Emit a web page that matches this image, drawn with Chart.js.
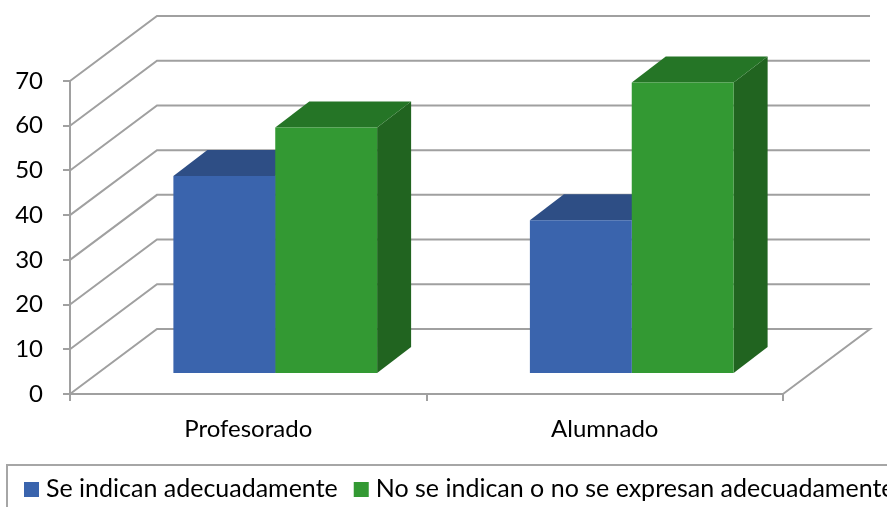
<!DOCTYPE html>
<html>
<head>
<meta charset="utf-8">
<script src="https://cdn.jsdelivr.net/npm/chart.js@4/dist/chart.umd.min.js"></script>
<style>
  html, body { margin: 0; padding: 0; background: #fff; overflow: hidden; }
  #wrap { width: 887px; height: 507px; overflow: hidden; }
</style>
</head>
<body>
<div id="wrap"><canvas id="chart" width="905" height="507"></canvas></div>
<script>
// Data
var categories = ['Profesorado', 'Alumnado'];
var seriesNames = ['Se indican adecuadamente', 'No se indican o no se expresan adecuadamente'];
var indicadas = [44.3, 34.4];
var noIndicadas = [55.1, 65.2];
var yTicks = [0, 10, 20, 30, 40, 50, 60, 70];

// 3D look (Excel style)
var FRONT = ['#3a64ad', '#339933'];
var TOP = ['#2e4e85', '#257526'];
var SIDE = ['#28467a', '#216420'];
var WALL_DX = 87, WALL_DY = 65;   // depth of the walls
var BAR_DX = 27, BAR_DY = 20;     // bars sit in the middle of the floor
var BOX_DX = 34, BOX_DY = 26;     // depth of each bar
var LINE = '#a0a0a0';
var FONT = 'Lato';

var wallsAndBoxes = {
    id: 'wallsAndBoxes',
    beforeDatasetsDraw: function (chart) {
        var ctx = chart.ctx;
        var y = chart.scales.y, a = chart.chartArea;
        ctx.save();
        ctx.strokeStyle = LINE;
        ctx.lineWidth = 2;
        yTicks.forEach(function (v) {
            var yf = y.getPixelForValue(v);
            ctx.beginPath();
            ctx.moveTo(a.left, yf);
            ctx.lineTo(a.left + WALL_DX, yf - WALL_DY);
            ctx.lineTo(a.right + WALL_DX, yf - WALL_DY);
            if (v === 0) ctx.lineTo(a.right, yf);
            ctx.stroke();
        });
        ctx.restore();

        // bars are drawn a bit deeper than the front axis
        ctx.save();
        ctx.translate(BAR_DX, -BAR_DY);
        chart.data.datasets.forEach(function (ds, i) {
            chart.getDatasetMeta(i).data.forEach(function (bar) {
                var p = bar.getProps(['x', 'y', 'base', 'width'], true);
                var l = p.x - p.width / 2, r = p.x + p.width / 2;
                ctx.fillStyle = SIDE[i];
                ctx.beginPath();
                ctx.moveTo(r, p.y);
                ctx.lineTo(r + BOX_DX, p.y - BOX_DY);
                ctx.lineTo(r + BOX_DX, p.base - BOX_DY);
                ctx.lineTo(r, p.base);
                ctx.closePath();
                ctx.fill();
                ctx.fillStyle = TOP[i];
                ctx.beginPath();
                ctx.moveTo(l, p.y);
                ctx.lineTo(l + BOX_DX, p.y - BOX_DY);
                ctx.lineTo(r + BOX_DX, p.y - BOX_DY);
                ctx.lineTo(r, p.y);
                ctx.closePath();
                ctx.fill();
            });
        });
    },
    afterDatasetsDraw: function (chart) {
        chart.ctx.restore();
    },
    afterDraw: function (chart) {
        // legend in a grey frame, cut by the right edge like the original
        var ctx = chart.ctx;
        ctx.save();
        ctx.strokeStyle = '#a6a6a6';
        ctx.lineWidth = 2;
        ctx.strokeRect(7, 465, 1000, 100);
        ctx.font = '25px ' + FONT;
        ctx.textBaseline = 'alphabetic';
        var x = 24;
        chart.data.datasets.forEach(function (ds, i) {
            ctx.fillStyle = ds.backgroundColor;
            ctx.fillRect(x, 482, 15, 15);
            ctx.fillStyle = '#000';
            ctx.fillText(ds.label, x + 22, 497);
            x += 22 + ctx.measureText(ds.label).width + 16;
        });
        ctx.restore();
    }
};

new Chart(document.getElementById('chart'), {
    type: 'bar',
    data: {
        labels: categories,
        datasets: [
            { label: seriesNames[0], data: indicadas, backgroundColor: FRONT[0], clip: false },
            { label: seriesNames[1], data: noIndicadas, backgroundColor: FRONT[1], clip: false }
        ]
    },
    options: {
        responsive: false,
        animation: false,
        events: [],
        layout: { padding: { top: 81, right: 122, bottom: 0, left: 0 } },
        datasets: { bar: { barPercentage: 1, categoryPercentage: 2 / 3.5 } },
        plugins: { legend: { display: false }, tooltip: { enabled: false } },
        scales: {
            x: {
                afterFit: function (s) { s.height = 113; },
                grid: { drawOnChartArea: false, tickLength: 7, color: LINE, lineWidth: 2 },
                border: { color: LINE, width: 2 },
                ticks: { color: '#000', font: { family: FONT, size: 24 }, padding: 14 }
            },
            y: {
                min: 0,
                max: 70,
                afterFit: function (s) { s.width = 70; },
                afterBuildTicks: function (s) { s.ticks = yTicks.map(function (v) { return { value: v }; }); },
                grid: { drawOnChartArea: false, tickLength: 7, color: LINE, lineWidth: 2 },
                border: { color: LINE, width: 2 },
                ticks: { color: '#000', font: { family: FONT, size: 24 }, padding: 20 }
            }
        }
    },
    plugins: [wallsAndBoxes]
});
</script>
</body>
</html>
